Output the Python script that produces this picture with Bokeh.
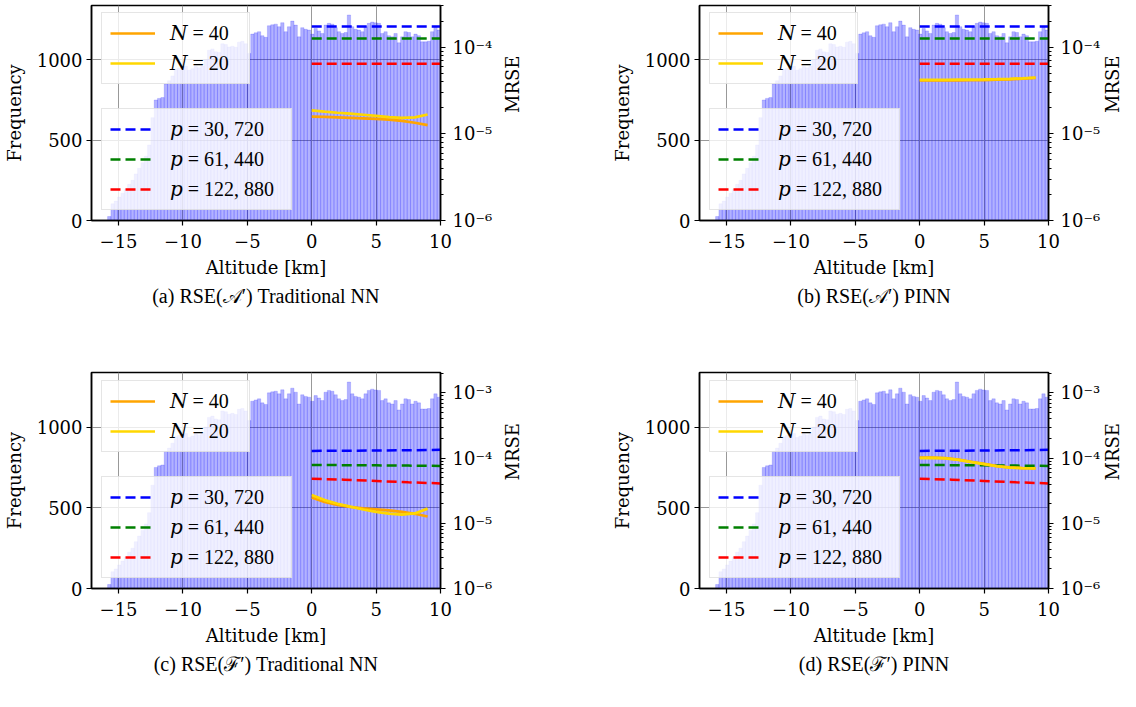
import numpy as np
from bokeh.plotting import figure
from bokeh.models import (Range1d, LogScale, LogAxis, FixedTicker, CustomJSTickFormatter,
                          Legend, LegendItem)
from bokeh.layouts import column, row
from bokeh.embed import file_html
from bokeh.resources import INLINE

# ---------------- data ----------------
# altitude histogram (100 bins from -15.85 km to 10 km)
BIN_START = -15.85
BIN_END = 10.0
FREQ = [25, 104, 121, 146, 170, 195, 225, 250, 290, 325,
        360, 400, 470, 640, 750, 760, 765, 850, 870, 900,
        940, 948, 955, 960, 935, 945, 958, 950, 960, 1000,
        1060, 1068, 1050, 1045, 1100, 1095, 1080, 1085, 1078, 1110,
        1115, 1100, 1040, 1160, 1168, 1175, 1150, 1140, 1212, 1218,
        1222, 1206, 1231, 1175, 1206, 1241, 1216, 1143, 1200, 1190,
        1185, 1160, 1195, 1180, 1164, 1216, 1227, 1222, 1200, 1175,
        1164, 1170, 1279, 1206, 1190, 1185, 1175, 1206, 1227, 1235,
        1230, 1227, 1164, 1175, 1150, 1143, 1164, 1106, 1143, 1175,
        1170, 1143, 1160, 1150, 1112, 1112, 1115, 1175, 1206, 1185]

X_SOLID = [0, 1, 2, 3, 4, 5, 6, 7, 8, 9]
X_DASHED = [0.0, 2.5, 5.0, 7.5, 10.0]

A_NN_N40 = [1.58e-5, 1.57e-5, 1.55e-5, 1.53e-5, 1.51e-5, 1.49e-5, 1.46e-5, 1.41e-5, 1.34e-5, 1.26e-5]
A_NN_N20 = [1.86e-5, 1.80e-5, 1.75e-5, 1.71e-5, 1.66e-5, 1.61e-5, 1.56e-5, 1.53e-5, 1.55e-5, 1.67e-5]
A_PINN_N40 = [4.12e-5, 4.12e-5, 4.13e-5, 4.14e-5, 4.15e-5, 4.17e-5, 4.20e-5, 4.25e-5, 4.32e-5, 4.42e-5]
A_PINN_N20 = [4.20e-5, 4.20e-5, 4.20e-5, 4.21e-5, 4.22e-5, 4.24e-5, 4.27e-5, 4.31e-5, 4.37e-5, 4.46e-5]
F_NN_N40 = [2.50e-5, 2.12e-5, 1.92e-5, 1.78e-5, 1.70e-5, 1.64e-5, 1.58e-5, 1.50e-5, 1.40e-5, 1.27e-5]
F_NN_N20 = [2.72e-5, 2.27e-5, 2.00e-5, 1.80e-5, 1.63e-5, 1.50e-5, 1.41e-5, 1.36e-5, 1.42e-5, 1.68e-5]
F_PINN_N40 = [1.02e-4, 1.02e-4, 1.00e-4, 9.50e-5, 8.80e-5, 8.15e-5, 7.55e-5, 7.20e-5, 7.05e-5, 7.00e-5]
F_PINN_N20 = [1.00e-4, 1.01e-4, 0.99e-4, 9.40e-5, 8.70e-5, 8.10e-5, 7.50e-5, 7.15e-5, 7.00e-5, 6.95e-5]

A_P30720 = [1.73e-4, 1.73e-4, 1.73e-4, 1.73e-4, 1.73e-4]
A_P61440 = [1.26e-4, 1.26e-4, 1.26e-4, 1.26e-4, 1.26e-4]
A_P122880 = [6.41e-5, 6.41e-5, 6.41e-5, 6.41e-5, 6.41e-5]
F_P30720 = [1.29e-4, 1.30e-4, 1.31e-4, 1.32e-4, 1.34e-4]
F_P61440 = [7.86e-5, 7.80e-5, 7.75e-5, 7.68e-5, 7.59e-5]
F_P122880 = [4.84e-5, 4.67e-5, 4.46e-5, 4.25e-5, 4.10e-5]

LEGEND_N = ["\U0001D441 = 40", "\U0001D441 = 20"]
LEGEND_P = ["\U0001D45D = 30, 720", "\U0001D45D = 61, 440", "\U0001D45D = 122, 880"]
CAPTIONS = ["(a) RSE(\U0001D49C\u2032) Traditional NN", "(b) RSE(\U0001D49C\u2032) PINN",
            "(c) RSE(\u2131\u2032) Traditional NN", "(d) RSE(\u2131\u2032) PINN"]
X_TICKS = [-15, -10, -5, 0, 5, 10]
Y_TICKS = [0, 500, 1000]
MRSE_TICKS = [1e-6, 1e-5, 1e-4, 1e-3]
MRSE_MINOR = [k * 10.0 ** e for e in range(-6, -2) for k in range(2, 10)]

TITLE_FONT = "Liberation Serif"
AXIS_FONT = "DejaVu Serif"
AXIS_FS = "18px"
LEG_FONT = "Liberation Serif, DejaVu Serif"
FS = "20px"

edges = np.linspace(BIN_START, BIN_END, len(FREQ) + 1)

minus_fmt = CustomJSTickFormatter(code="return tick < 0 ? '\\u2212' + Math.abs(tick) : String(tick);")
sup_fmt = CustomJSTickFormatter(code="""
const sup = {'-':'\u207B','0':'\u2070','1':'\u00B9','2':'\u00B2','3':'\u00B3','4':'\u2074','5':'\u2075','6':'\u2076','7':'\u2077','8':'\u2078','9':'\u2079'};
const e = Math.round(Math.log10(tick));
return '10' + String(e).split('').map(c => sup[c]).join('');
""")


def style_axis(ax):
    ax.axis_line_color = "black"
    ax.axis_line_width = 1.5
    ax.major_tick_line_color = "black"
    ax.major_tick_in = 0
    ax.major_tick_out = 5
    ax.major_tick_line_width = 1.2
    ax.minor_tick_line_color = None
    ax.major_label_text_font = AXIS_FONT
    ax.major_label_text_font_size = AXIS_FS
    ax.major_label_text_color = "black"
    ax.axis_label_text_font = AXIS_FONT
    ax.axis_label_text_font_size = AXIS_FS
    ax.axis_label_text_font_style = "normal"
    ax.axis_label_text_color = "black"


def make_legend(items, loc, label_width):
    return Legend(items=items, location=loc, orientation="vertical",
                  background_fill_color="white", background_fill_alpha=0.8,
                  border_line_color="#cccccc", border_line_width=1.2,
                  padding=8, spacing=6, margin=0,
                  label_height=24, glyph_height=24, glyph_width=45,
                  label_standoff=15, label_width=label_width,
                  label_text_font=LEG_FONT, label_text_font_size=FS, label_text_color="black")


def panel(caption, n40, n20, pvals, mrse_top, width, height, bl, br, bt, bb, r_standoff):
    p = figure(width=width, height=height, x_range=Range1d(-17.1, 10), y_range=Range1d(0, 1338),
               output_backend="svg", toolbar_location=None, title=caption, title_location="below",
               min_border_left=bl, min_border_right=br, min_border_top=bt, min_border_bottom=bb,
               background_fill_color="white", border_fill_color="white")
    p.outline_line_color = "black"
    p.outline_line_width = 1.5
    p.title.text_font = TITLE_FONT
    p.title.text_font_size = FS
    p.title.text_font_style = "normal"
    p.title.text_color = "black"
    p.title.align = "center"
    p.title.standoff = 4

    p.extra_y_ranges = {"mrse": Range1d(1e-6, mrse_top)}
    p.extra_y_scales = {"mrse": LogScale()}

    xa = p.xaxis[0]
    style_axis(xa)
    xa.ticker = FixedTicker(ticks=X_TICKS)
    xa.formatter = minus_fmt
    xa.axis_label = "Altitude [km]"
    xa.major_label_standoff = 8
    xa.axis_label_standoff = 6

    ya = p.yaxis[0]
    style_axis(ya)
    ya.ticker = FixedTicker(ticks=Y_TICKS)
    ya.axis_label = "Frequency"
    ya.major_label_standoff = 4
    ya.axis_label_standoff = 9

    ra = LogAxis(y_range_name="mrse", axis_label="MRSE",
                 ticker=FixedTicker(ticks=MRSE_TICKS, minor_ticks=MRSE_MINOR),
                 formatter=sup_fmt)
    style_axis(ra)
    ra.minor_tick_line_color = "black"
    ra.minor_tick_in = 0
    ra.minor_tick_out = 3
    ra.major_label_standoff = 7
    ra.axis_label_standoff = r_standoff
    ra.axis_label_orientation = 1.5707963
    p.add_layout(ra, "right")

    p.xgrid.grid_line_color = "#999999"
    p.ygrid.grid_line_color = "#999999"
    p.xgrid.grid_line_width = 1
    p.ygrid.grid_line_width = 1

    p.quad(left=edges[:-1], right=edges[1:], bottom=0, top=FREQ,
           fill_color="blue", fill_alpha=0.3, line_color="blue", line_alpha=0.25, line_width=0.6)

    colors = ["blue", "green", "red"]
    dashed = []
    for vals, c in zip(pvals, colors):
        dashed.append(p.line(X_DASHED, vals, y_range_name="mrse", line_color=c,
                             line_width=2.5, line_dash="10 5"))
    r40 = p.line(X_SOLID, n40, y_range_name="mrse", line_color="orange", line_width=2.7)
    r20 = p.line(X_SOLID, n20, y_range_name="mrse", line_color="gold", line_width=2.7)

    leg1 = make_legend([LegendItem(label=LEGEND_N[0], renderers=[r40]),
                        LegendItem(label=LEGEND_N[1], renderers=[r20])], (10, 136), 71)
    leg2 = make_legend([LegendItem(label=LEGEND_P[i], renderers=[dashed[i]]) for i in range(3)],
                       (10, 10), 113)
    p.add_layout(leg1, "center")
    p.add_layout(leg2, "center")
    return p


A_P = [A_P30720, A_P61440, A_P122880]
F_P = [F_P30720, F_P61440, F_P122880]

pa = panel(CAPTIONS[0], A_NN_N40, A_NN_N20, A_P, 3.02e-4, 600, 360, 89, 160, 5, 140, 17)
pb = panel(CAPTIONS[1], A_PINN_N40, A_PINN_N20, A_P, 3.02e-4, 536, 360, 99, 85, 5, 140, 9)
pc = panel(CAPTIONS[2], F_NN_N40, F_NN_N20, F_P, 2.06e-3, 600, 347, 89, 160, 12, 119, 17)
pd = panel(CAPTIONS[3], F_PINN_N40, F_PINN_N20, F_P, 2.06e-3, 536, 347, 99, 85, 12, 119, 9)

layout = column(row(pa, pb), row(pc, pd))
open("out.html", "w").write(file_html(layout, INLINE))
